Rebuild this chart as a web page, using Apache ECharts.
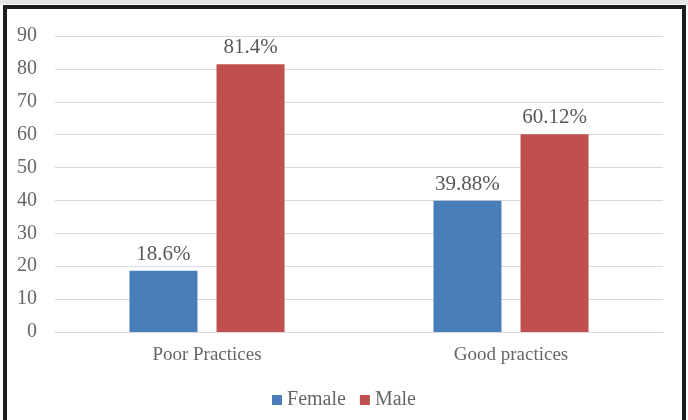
<!DOCTYPE html>
<html><head><meta charset="utf-8">
<script src="https://cdn.jsdelivr.net/npm/echarts@6/dist/echarts.min.js"></script>
<style>
html,body{margin:0;padding:0;background:#fff;}
#band{position:absolute;left:0;top:0;width:688px;height:4px;background:#e6e6e6;}
#frame{position:absolute;left:3px;top:5px;width:675px;height:420px;border:4px solid #1e1e1e;}
#c{position:absolute;left:0;top:0;width:688px;height:420px;}
</style></head>
<body>
<div id="band"></div><div id="frame"></div>
<div id="c"></div>
<script>
const categories = ['Poor Practices', 'Good practices'];
const female = [18.6, 39.88];
const male = [81.4, 60.12];
const femaleLabels = ['18.6%', '39.88%'];
const maleLabels = ['81.4%', '60.12%'];
const yTicks = [0, 10, 20, 30, 40, 50, 60, 70, 80, 90];

const font = 'Liberation Serif';
const chart = echarts.init(document.getElementById('c'));
const lbl = (arr) => ({show: true, position: 'top', distance: 6, color: '#595959', fontFamily: font, fontSize: 21,
  formatter: p => arr[p.dataIndex]});
chart.setOption({
  animation: false,
  grid: {left: 55, right: 25, top: 36, bottom: 88},
  legend: {top: 385, left: 'center', itemWidth: 10, itemHeight: 10, itemGap: 14, icon: 'rect',
    textStyle: {color: '#666', fontFamily: font, fontSize: 20}, data: ['Female', 'Male']},
  xAxis: {type: 'category', data: categories,
    axisLine: {lineStyle: {color: '#d9d9d9'}}, axisTick: {show: false},
    axisLabel: {color: '#666', fontFamily: font, fontSize: 19, margin: 14}},
  yAxis: {type: 'value', min: yTicks[0], max: yTicks[yTicks.length - 1], interval: 10,
    axisLine: {show: false}, axisTick: {show: false},
    splitLine: {lineStyle: {color: '#d9d9d9'}},
    axisLabel: {color: '#666', fontFamily: font, fontSize: 20, margin: 18}},
  series: [
    {name: 'Female', type: 'bar', data: female, barWidth: 68, barGap: '28%', itemStyle: {color: '#4a7ebb'}, label: lbl(femaleLabels)},
    {name: 'Male', type: 'bar', data: male, barWidth: 68, itemStyle: {color: '#c0504d'}, label: lbl(maleLabels)}
  ]
});
</script>
</body></html>
